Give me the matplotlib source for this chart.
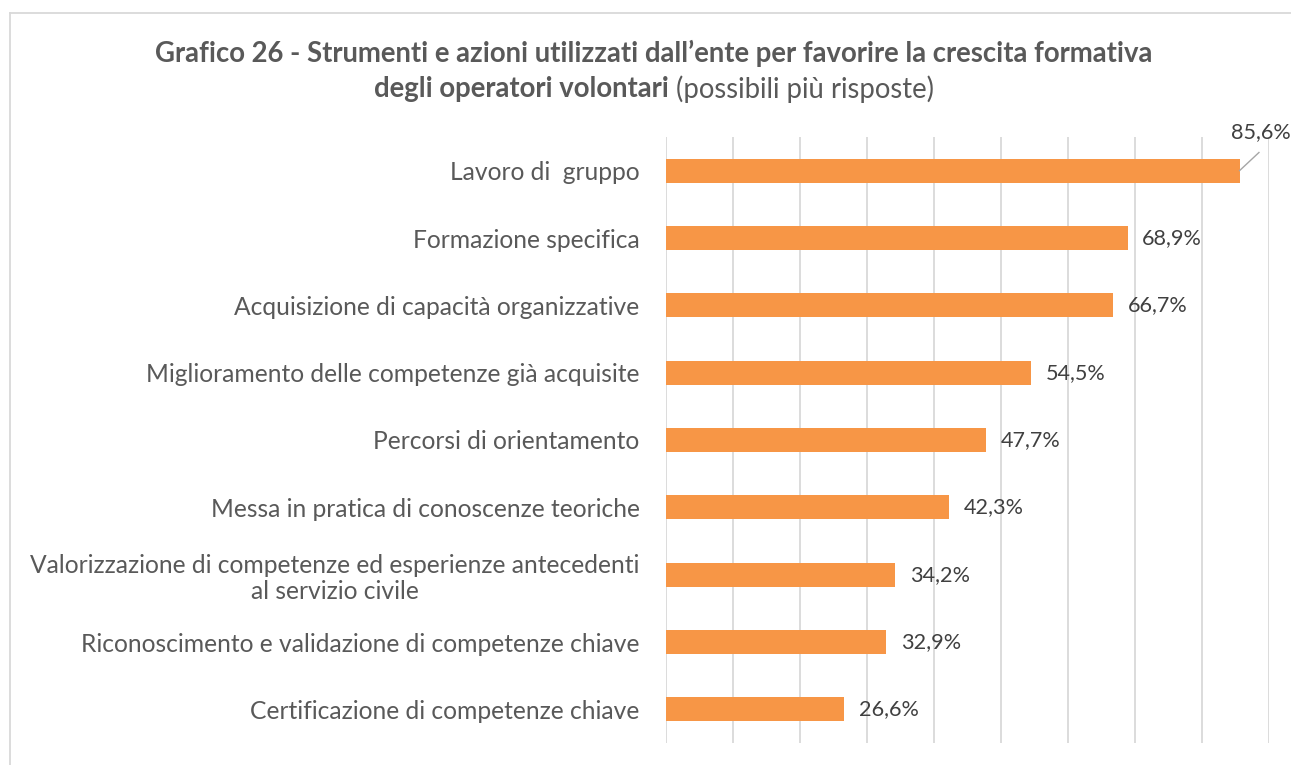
import matplotlib.pyplot as plt
from matplotlib.lines import Line2D
import numpy as np

plt.rcParams['font.family'] = ['Lato', 'DejaVu Sans']

voci = [
    "Lavoro di  gruppo",
    "Formazione specifica",
    "Acquisizione di capacità organizzative",
    "Miglioramento delle competenze già acquisite",
    "Percorsi di orientamento",
    "Messa in pratica di conoscenze teoriche",
    "Valorizzazione di competenze ed esperienze antecedenti\nal servizio civile",
    "Riconoscimento e validazione di competenze chiave",
    "Certificazione di competenze chiave",
]
percentuali = [85.6, 68.9, 66.7, 54.5, 47.7, 42.3, 34.2, 32.9, 26.6]
griglia = np.arange(0, 100, 10)

ARANCIO = "#F79646"
GRIGIO_TESTO = "#595959"
GRIGIO_VALORI = "#404040"

fig = plt.figure(figsize=(12.91, 7.65), dpi=100)
ax = fig.add_axes([666 / 1291, 1 - 743 / 765, (1269 - 666) / 1291, (743 - 137) / 765])

y = np.arange(len(voci))
ax.barh(y, percentuali, height=0.36, color=ARANCIO, zorder=3)
ax.set_xlim(0, 90)
ax.set_ylim(len(voci) - 0.5, -0.5)

for g in griglia:
    ax.axvline(g, color="#D9D9D9", lw=1.3, zorder=1)

ax.set_xticks([])
ax.set_yticks(y)
ax.set_yticklabels(voci, fontsize=17.7, color=GRIGIO_TESTO,
                   multialignment="center", linespacing=1.15)
ax.tick_params(axis="y", length=0, pad=19)
for s in ax.spines.values():
    s.set_visible(False)

# etichette dei valori; la prima sta sopra la barra con una linea di richiamo
for i, v in enumerate(percentuali):
    testo = f"{v:.1f}%".replace(".", ",")
    if i == 0:
        ax.plot([v, v + 2.9], [i, i - 0.27], color="#A6A6A6", lw=1, zorder=4,
                clip_on=False)
        ax.text(v + 3.2, i - 0.58, testo, fontsize=15.6, color=GRIGIO_VALORI,
                ha="center", va="center")
    else:
        ax.text(v + 2.2, i, testo, fontsize=15.6, color=GRIGIO_VALORI,
                ha="left", va="center")

# titolo su due righe, con parte in grassetto
fig.text(654 / 1291, 1 - 53 / 765,
         "Grafico 26 - Strumenti e azioni utilizzati dall’ente per favorire la crescita formativa",
         fontsize=19.8, fontweight="bold", color=GRIGIO_TESTO, ha="center", va="center")
t1 = fig.text(0, 1 - 89 / 765, "degli operatori volontari", fontsize=19.8,
              fontweight="bold", color=GRIGIO_TESTO, ha="left", va="center")
t2 = fig.text(0, 1 - 89 / 765, " (possibili più risposte)", fontsize=19.8,
              color=GRIGIO_TESTO, ha="left", va="center")
fig.canvas.draw()
r = fig.canvas.get_renderer()
w1 = t1.get_window_extent(r).width
w2 = t2.get_window_extent(r).width
x0 = 654 - (w1 + w2) / 2
t1.set_x(x0 / 1291)
t2.set_x((x0 + w1) / 1291)

# cornice del grafico
fig.add_artist(Line2D([10 / 1291, 1.0], [1 - 13 / 765] * 2, color="#D9D9D9", lw=1.3))
fig.add_artist(Line2D([10 / 1291] * 2, [0, 1 - 13 / 765], color="#D9D9D9", lw=1.3))

fig.savefig("out.png", dpi=100)
